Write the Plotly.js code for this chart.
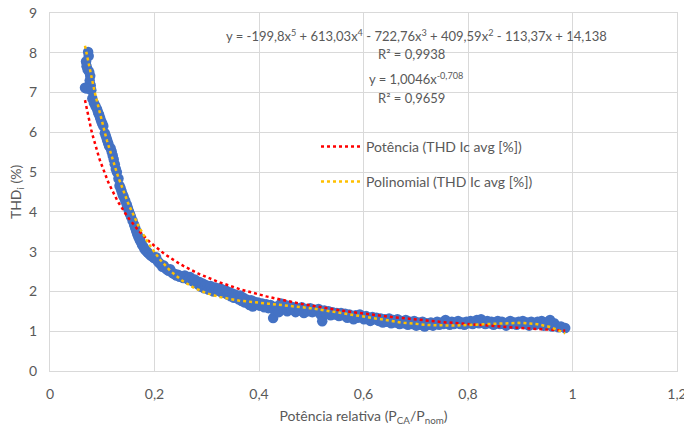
<!DOCTYPE html>
<html>
<head>
<meta charset="utf-8">
<script src="https://cdn.plot.ly/plotly-3.0.1.min.js"></script>
<style>html,body{margin:0;padding:0;background:#fff;}#chart{width:684px;height:426px;}</style>
</head>
<body>
<div id="chart"></div>
<script>
// Measured data: relative power (P_CA/P_nom) vs THD Ic avg [%]
const potRel = [
0.073,0.074,0.069,0.070,0.072,0.075,0.077,0.076,0.078,0.067,0.070,0.079,0.081,0.084,0.087,0.090,0.092,0.094,0.096,0.098,0.100,0.102,
0.105,0.107,0.109,0.111,0.113,0.116,0.118,0.120,0.122,0.124,0.126,0.128,0.131,0.133,0.135,0.137,0.139,0.141,0.144,0.147,0.149,0.151,
0.153,0.155,0.158,0.161,0.163,0.165,0.167,0.169,0.171,0.173,0.176,0.179,0.181,0.184,0.187,0.190,0.193,0.196,0.199,
0.203,0.206,0.209,0.212,0.215,0.218,0.221,0.224,0.227,0.230,0.233,0.236,0.239,0.242,0.245,0.248,0.252,0.255,0.258,0.262,0.265,0.268,
0.271,0.274,0.277,0.280,0.283,0.286,0.289,0.292,0.295,0.298,0.301,0.304,0.307,0.310,0.313,0.316,0.319,0.322,0.325,0.328,0.331,0.334,
0.337,0.340,0.343,0.346,0.349,0.352,0.355,0.358,0.361,0.364,0.367,0.370,0.373,0.376,0.379,0.382,0.385,0.388,0.391,0.395,0.398,0.402,
0.406,0.410,0.414,0.418,0.422,0.427,0.430,0.434,0.438,0.442,0.446,0.450,0.454,0.458,0.462,0.466,0.470,0.474,0.478,0.482,0.486,0.490,
0.494,0.498,0.502,0.506,0.510,0.514,0.518,0.521,0.525,0.529,0.533,0.537,0.541,0.545,0.549,0.553,0.557,0.561,0.565,0.569,0.573,0.577,
0.581,0.585,0.589,0.593,0.597,0.601,0.605,0.609,0.613,0.617,0.621,0.625,0.629,0.633,0.637,0.641,0.645,0.649,0.653,0.657,0.661,0.665,
0.669,0.673,0.677,0.681,0.685,0.689,0.693,0.697,0.701,0.705,0.709,0.713,0.717,0.721,0.725,0.729,0.733,0.737,0.741,0.745,0.749,0.753,
0.757,0.761,0.765,0.769,0.773,0.777,0.781,0.785,0.789,0.793,0.797,0.801,0.805,0.809,0.813,0.817,0.821,0.825,0.829,0.833,0.837,0.841,
0.845,0.849,0.853,0.857,0.861,0.865,0.869,0.873,0.877,0.881,0.885,0.889,0.893,0.897,0.901,0.905,0.909,0.913,0.917,0.921,0.925,0.929,
0.933,0.937,0.941,0.945,0.949,0.953,0.957,0.961,0.965,0.969,0.973,0.978,0.986
];
const thdIc = [
8.02,7.92,7.78,7.66,7.58,7.52,7.42,7.30,7.18,7.12,7.10,7.06,6.85,6.74,6.66,6.58,6.50,6.44,6.36,6.28,6.22,6.16,
5.98,5.90,5.82,5.74,5.66,5.60,5.52,5.42,5.32,5.20,5.08,5.00,4.84,4.66,4.60,4.52,4.44,4.38,4.28,4.18,4.10,4.02,
3.95,3.88,3.78,3.68,3.60,3.52,3.44,3.38,3.32,3.26,3.18,3.12,3.06,3.02,2.98,2.94,2.90,2.88,2.84,
2.86,2.76,2.72,2.68,2.62,2.65,2.58,2.55,2.52,2.56,2.48,2.45,2.44,2.40,2.42,2.37,2.38,2.34,2.40,2.33,2.30,2.36,
2.28,2.25,2.30,2.22,2.18,2.24,2.12,2.20,2.08,2.16,2.10,2.04,2.14,2.07,2.00,2.10,2.05,2.02,2.08,1.98,2.04,1.96,
2.02,1.92,1.98,1.88,1.95,1.84,1.92,1.86,1.80,1.90,1.76,1.84,1.72,1.80,1.70,1.66,1.78,1.62,1.74,1.68,1.72,1.64,
1.70,1.60,1.68,1.58,1.66,1.33,1.52,1.62,1.48,1.70,1.56,1.66,1.50,1.64,1.54,1.60,1.48,1.58,1.52,1.60,1.46,1.56,
1.50,1.58,1.48,1.54,1.50,1.56,1.42,1.25,1.52,1.44,1.50,1.40,1.48,1.42,1.46,1.38,1.46,1.40,1.44,1.34,1.42,1.38,
1.30,1.40,1.34,1.42,1.36,1.30,1.38,1.32,1.26,1.36,1.30,1.34,1.26,1.32,1.22,1.30,1.24,1.32,1.20,1.28,1.22,1.30,
1.18,1.26,1.20,1.28,1.16,1.24,1.18,1.26,1.14,1.22,1.16,1.24,1.12,1.20,1.16,1.22,1.14,1.20,1.24,1.16,1.22,1.18,
1.28,1.20,1.16,1.24,1.18,1.22,1.26,1.18,1.22,1.16,1.24,1.20,1.26,1.18,1.22,1.28,1.20,1.30,1.22,1.18,1.26,1.20,
1.24,1.16,1.22,1.26,1.18,1.24,1.20,1.14,1.22,1.26,1.18,1.22,1.16,1.24,1.20,1.26,1.18,1.22,1.14,1.24,1.20,1.16,
1.24,1.18,1.26,1.14,1.22,1.18,1.28,1.12,1.20,1.14,1.10,1.12,1.08
];
// Trendline coefficients shown on the chart
const polyCoef = [-199.8, 613.03, -722.76, 409.59, -113.37, 14.138]; // x^5 ... x^0
const powA = 1.0046, powB = -0.708;
const xTickVals = [0, 0.2, 0.4, 0.6, 0.8, 1, 1.2];
const yTickVals = [0, 1, 2, 3, 4, 5, 6, 7, 8, 9];

const xs = potRel.slice().sort((a, b) => a - b);
const polyY = xs.map(x => polyCoef.reduce((acc, c) => acc * x + c, 0));
const powY = xs.map(x => powA * Math.pow(x, powB));

const gray = '#595959';
const grid = '#d9d9d9';
const fnt = 'Lato, "Open Sans", sans-serif';

const traces = [
  {x: potRel, y: thdIc, type: 'scatter', mode: 'markers', name: 'THD Ic avg [%]',
   marker: {color: '#4472C4', size: 10.5}, showlegend: false},
  {x: xs, y: powY, type: 'scatter', mode: 'lines', name: 'Potência (THD Ic avg [%])',
   line: {color: '#FF0000', width: 2.5, dash: 'dot'}, legend: 'legend'},
  {x: xs, y: polyY, type: 'scatter', mode: 'lines', name: 'Polinomial (THD Ic avg [%])',
   line: {color: '#FFC000', width: 2.5, dash: 'dot'}, legend: 'legend2'}
];

function px2x(p) { return (p - 50) / 627; }
function py2y(p) { return (371 - p) / 358; }

const layout = {
  width: 684, height: 426,
  margin: {l: 50, r: 7, t: 13, b: 55},
  paper_bgcolor: '#fff', plot_bgcolor: '#fff',
  separators: ', ',
  font: {family: fnt, size: 14, color: gray},
  xaxis: {range: [0, 1.2], tickvals: xTickVals, showgrid: true, gridcolor: grid, gridwidth: 1,
    zeroline: false, showline: true, linecolor: grid, linewidth: 1, mirror: true, ticks: '',
    ticklabelstandoff: 10, ticklabeloverflow: 'allow', tickfont: {size: 14, color: gray}, automargin: false,
    title: {text: 'Potência relativa (P<sub>CA</sub>/P<sub>nom</sub>)', font: {size: 14, color: gray}, standoff: 12}},
  yaxis: {range: [0, 9], tickvals: yTickVals, showgrid: true, gridcolor: grid, gridwidth: 1,
    zeroline: false, showline: true, linecolor: grid, linewidth: 1, mirror: true, ticks: '',
    ticklabelstandoff: 9, ticklabeloverflow: 'allow', tickfont: {size: 14, color: gray}, automargin: false,
    title: {text: 'THD<sub>i</sub> (%)', font: {size: 14, color: gray}, standoff: 4}},
  showlegend: true,
  legend: {x: px2x(316), y: py2y(131), xanchor: 'left', yanchor: 'top', bgcolor: 'rgba(0,0,0,0)',
    itemwidth: 40, font: {size: 14, color: gray}},
  legend2: {x: px2x(316), y: py2y(166), xanchor: 'left', yanchor: 'top', bgcolor: 'rgba(0,0,0,0)',
    itemwidth: 40, font: {size: 14, color: gray}},
  annotations: [
    {xref: 'paper', yref: 'paper', x: px2x(416), y: py2y(35), showarrow: false, xanchor: 'center', yanchor: 'middle',
     text: 'y = -199,8x<sup>5</sup> + 613,03x<sup>4</sup> - 722,76x<sup>3</sup> + 409,59x<sup>2</sup> - 113,37x + 14,138', font: {size: 13, color: gray}},
    {xref: 'paper', yref: 'paper', x: px2x(411), y: py2y(54), showarrow: false, xanchor: 'center', yanchor: 'middle',
     text: 'R² = 0,9938', font: {size: 13, color: gray}},
    {xref: 'paper', yref: 'paper', x: px2x(416), y: py2y(79), showarrow: false, xanchor: 'center', yanchor: 'middle',
     text: 'y = 1,0046x<sup>-0,708</sup>', font: {size: 13, color: gray}},
    {xref: 'paper', yref: 'paper', x: px2x(411), y: py2y(98), showarrow: false, xanchor: 'center', yanchor: 'middle',
     text: 'R² = 0,9659', font: {size: 13, color: gray}}
  ]
};

Plotly.newPlot('chart', traces, layout, {staticPlot: true, displayModeBar: false});
</script>
</body>
</html>
